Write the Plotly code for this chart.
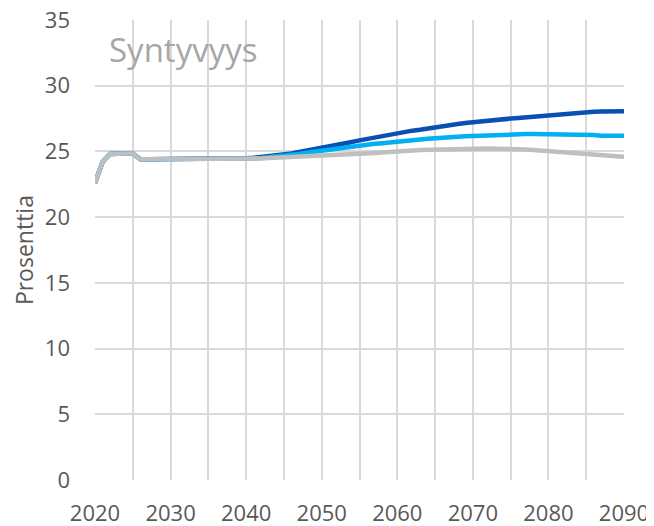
import plotly.graph_objects as go

years = list(range(2020, 2091))

base_2020_2039 = [22.6, 24.2, 24.8, 24.85, 24.85, 24.85, 24.4, 24.4, 24.4, 24.4,
                  24.4, 24.4, 24.4, 24.4, 24.4, 24.4, 24.4, 24.4, 24.4, 24.4]

high_2040_2090 = [24.48, 24.52, 24.57, 24.63, 24.7, 24.77, 24.85, 24.95, 25.05, 25.18,
                  25.3, 25.4, 25.5, 25.6, 25.72, 25.84, 25.95, 26.05, 26.18, 26.3,
                  26.42, 26.5, 26.58, 26.65, 26.72, 26.8, 26.9, 27.0, 27.08, 27.16,
                  27.23, 27.3, 27.36, 27.43, 27.48, 27.5, 27.55, 27.6, 27.67, 27.73,
                  27.79, 27.83, 27.87, 27.92, 27.96, 28.0, 28.02, 28.03, 28.04, 28.05,
                  28.06]

mid_2040_2090 = [24.45, 24.48, 24.5, 24.55, 24.6, 24.65, 24.72, 24.8, 24.9, 24.98,
                 25.08, 25.15, 25.22, 25.3, 25.38, 25.45, 25.52, 25.58, 25.63, 25.67,
                 25.71, 25.77, 25.83, 25.9, 25.96, 26.01, 26.05, 26.09, 26.12, 26.15,
                 26.17, 26.2, 26.25, 26.28, 26.3, 26.3, 26.3, 26.32, 26.33, 26.33,
                 26.33, 26.33, 26.33, 26.32, 26.3, 26.27, 26.25, 26.2, 26.2, 26.2,
                 26.2]

low_2040_2090 = [24.42, 24.45, 24.47, 24.5, 24.52, 24.55, 24.58, 24.6, 24.63, 24.67,
                 24.7, 24.72, 24.75, 24.78, 24.8, 24.82, 24.85, 24.9, 24.95, 25.0,
                 25.03, 25.05, 25.08, 25.1, 25.12, 25.13, 25.15, 25.17, 25.18, 25.2,
                 25.2, 25.22, 25.22, 25.2, 25.2, 25.2, 25.18, 25.15, 25.1, 25.05,
                 25.0, 24.98, 24.95, 24.9, 24.87, 24.82, 24.75, 24.68, 24.65, 24.63,
                 24.6]

high = base_2020_2039 + high_2040_2090
mid = base_2020_2039 + mid_2040_2090
low = base_2020_2039 + low_2040_2090

x_ticks = [2020, 2030, 2040, 2050, 2060, 2070, 2080, 2090]
y_ticks = [0, 5, 10, 15, 20, 25, 30, 35]

title_text = "Syntyvyys"
y_title = "Prosenttia"

FONT = "Open Sans"
grid = "#d9d9d9"
tick_col = "#595959"

fig = go.Figure()
fig.add_trace(go.Scatter(x=years, y=high, mode="lines",
                         line=dict(color="#0a50b4", width=4.5), showlegend=False))
fig.add_trace(go.Scatter(x=years, y=mid, mode="lines",
                         line=dict(color="#00b0f0", width=4.5), showlegend=False))
fig.add_trace(go.Scatter(x=years, y=low, mode="lines",
                         line=dict(color="#bfbfbf", width=4.5), showlegend=False))

fig.update_layout(
    width=646, height=518,
    margin=dict(l=87, r=30, t=12, b=46),
    paper_bgcolor="white", plot_bgcolor="white",
    font=dict(family=FONT, color=tick_col, size=22),
    xaxis=dict(range=[2020, 2090], tickvals=x_ticks, ticktext=[str(v) for v in x_ticks],
               showgrid=True, gridcolor=grid, gridwidth=2,
               minor=dict(dtick=5, tick0=2020, showgrid=True, gridcolor=grid, gridwidth=2),
               zeroline=False, showline=False, ticks="", automargin=False,
               ticklabeloverflow="allow",
               tickfont=dict(family=FONT, size=22, color=tick_col),
               ticklabelstandoff=18),
    yaxis=dict(range=[0, 35], tickvals=y_ticks,
               showgrid=True, gridcolor=grid, gridwidth=2,
               zeroline=False, showline=False, ticks="", automargin=False,
               ticklabeloverflow="allow",
               tickfont=dict(family=FONT, size=22, color=tick_col),
               ticklabelstandoff=24),
    annotations=[
        dict(text=title_text, xref="paper", yref="paper", x=0.022, y=0.935,
             xanchor="left", yanchor="middle", showarrow=False,
             font=dict(family=FONT, size=33, color="#a6a6a6")),
        dict(text=y_title, xref="paper", yref="paper", x=-0.134, y=0.5,
             xanchor="center", yanchor="middle", showarrow=False, textangle=-90,
             font=dict(family=FONT, size=23, color=tick_col)),
    ],
)

fig.write_html("out.html")
